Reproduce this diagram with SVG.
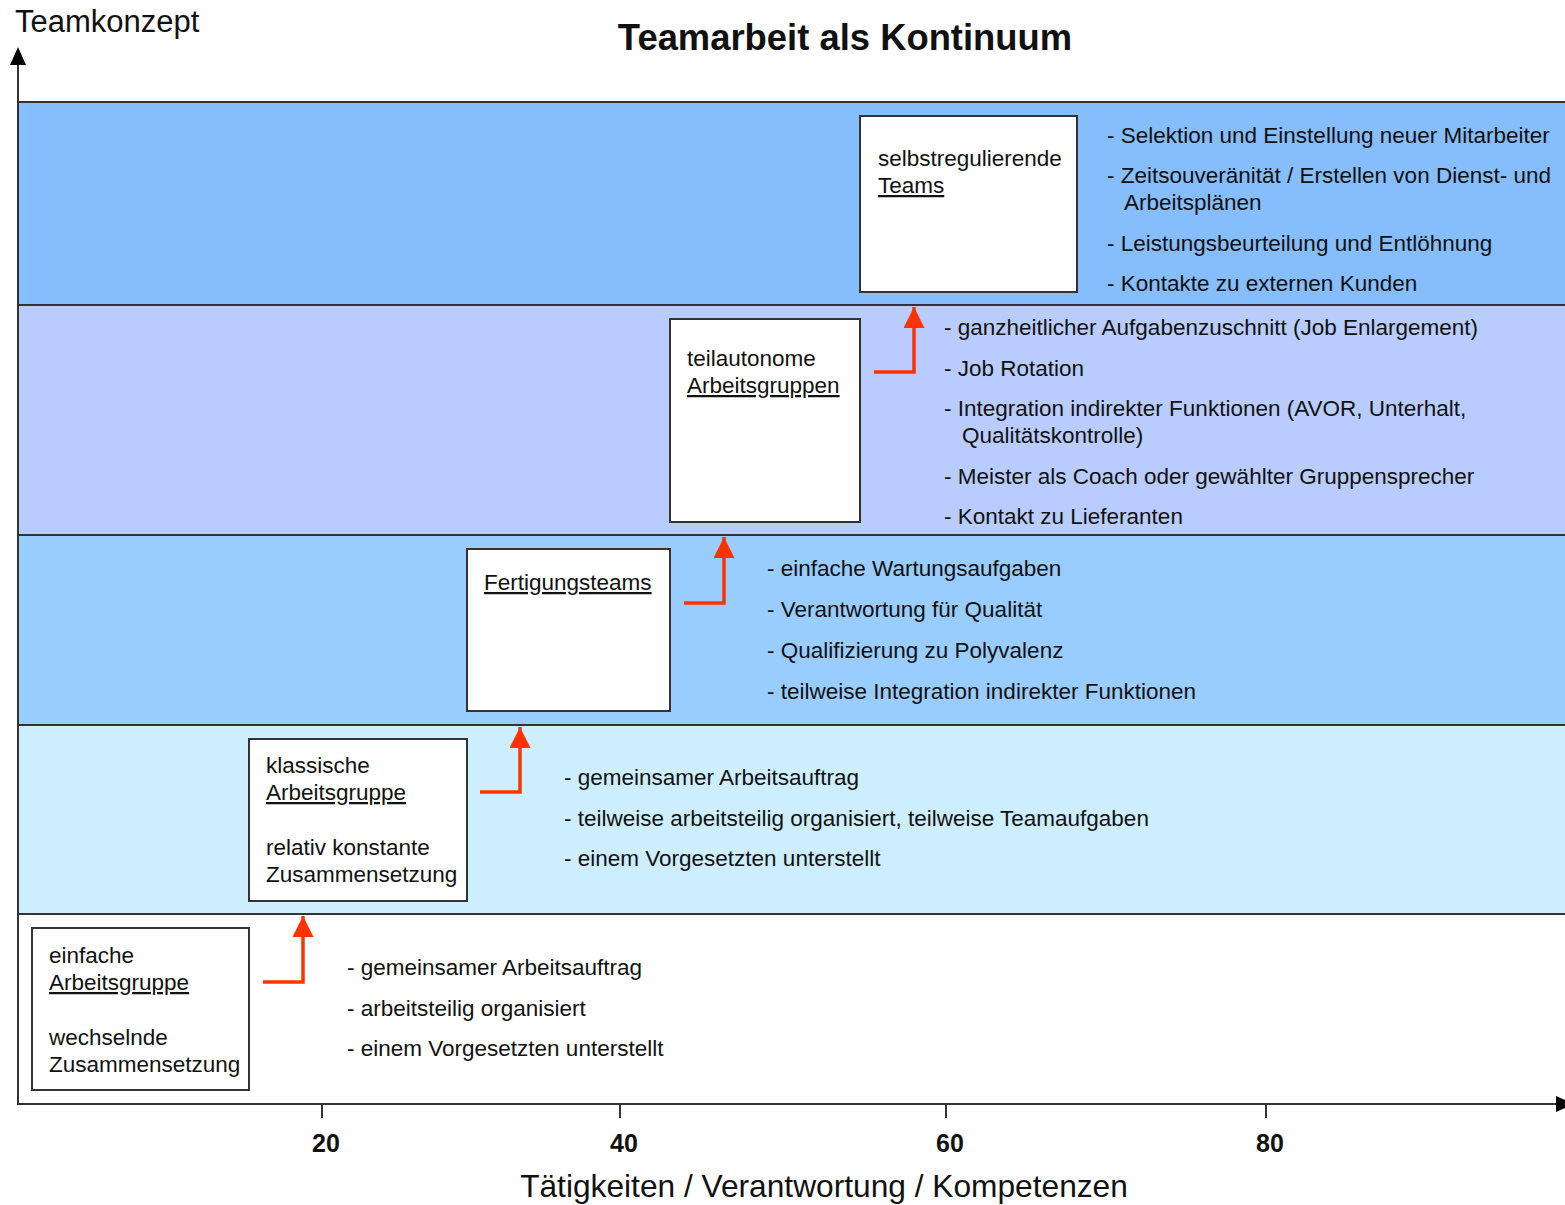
<svg xmlns="http://www.w3.org/2000/svg" width="1565" height="1205" viewBox="0 0 1565 1205">
<style>
text{font-family:"Liberation Sans",Arial,sans-serif;fill:#111}
.t{font-size:22.5px}
.u{text-decoration:underline}
.box{fill:#fff;stroke:#333;stroke-width:2}
.band{stroke:#333;stroke-width:2}
.ax{stroke:#333;stroke-width:2;fill:none}
.arr{stroke:#ff3300;stroke-width:3.5;fill:none}
.tick{font-size:25px;font-weight:bold;text-anchor:middle}
</style>
<defs>
<marker id="ah" viewBox="0 0 10 10" refX="10" refY="5" markerWidth="6" markerHeight="6" markerUnits="strokeWidth" orient="auto"><path d="M0,0 L10,5 L0,10 z" fill="#ff3300"/></marker>
</defs>
<rect width="1565" height="1205" fill="#fff"/>
<g id="bands">
<rect class="band" x="18" y="102" width="1560" height="203" fill="#85bdfd"/>
<rect class="band" x="18" y="305" width="1560" height="230" fill="#b9ccff"/>
<rect class="band" x="18" y="535" width="1560" height="190" fill="#99ccff"/>
<rect class="band" x="18" y="725" width="1560" height="189" fill="#cceeff"/>
<rect class="band" x="18" y="914" width="1560" height="190" fill="#ffffff"/>
</g>
<g id="axes">
<line class="ax" x1="18" y1="1104" x2="18" y2="62"/>
<polygon points="10,65 18,47 26,65" fill="#000"/>
<line class="ax" x1="18" y1="1104" x2="1558" y2="1104"/>
<polygon points="1556,1096 1574,1104 1556,1112" fill="#000"/>
<line class="ax" x1="322" y1="1104" x2="322" y2="1118"/>
<line class="ax" x1="620" y1="1104" x2="620" y2="1118"/>
<line class="ax" x1="946" y1="1104" x2="946" y2="1118"/>
<line class="ax" x1="1266" y1="1104" x2="1266" y2="1118"/>
<text class="tick" x="326" y="1152">20</text>
<text class="tick" x="624" y="1152">40</text>
<text class="tick" x="950" y="1152">60</text>
<text class="tick" x="1270" y="1152">80</text>
<text x="824" y="1197" font-size="31.7" text-anchor="middle">Tätigkeiten / Verantwortung / Kompetenzen</text>
<text x="15" y="32" font-size="31">Teamkonzept</text>
</g>
<text x="845" y="50" font-size="36.4" font-weight="bold" text-anchor="middle">Teamarbeit als Kontinuum</text>
<g id="node-selbst">
<rect class="box" x="860" y="116" width="217" height="176"/>
<text class="t" x="878" y="166">selbstregulierende</text>
<text class="t u" x="878" y="193">Teams</text>
</g>
<g id="node-teilautonom">
<rect class="box" x="670" y="319" width="190" height="203"/>
<text class="t" x="687" y="366">teilautonome</text>
<text class="t u" x="687" y="393">Arbeitsgruppen</text>
</g>
<g id="node-fertigung">
<rect class="box" x="467" y="549" width="203" height="162"/>
<text class="t u" x="484" y="590">Fertigungsteams</text>
</g>
<g id="node-klassisch">
<rect class="box" x="249" y="739" width="218" height="162"/>
<text class="t" x="266" y="773">klassische</text>
<text class="t u" x="266" y="800">Arbeitsgruppe</text>
<text class="t" x="266" y="855">relativ konstante</text>
<text class="t" x="266" y="882">Zusammensetzung</text>
</g>
<g id="node-einfach">
<rect class="box" x="32" y="928" width="217" height="162"/>
<text class="t" x="49" y="963">einfache</text>
<text class="t u" x="49" y="990">Arbeitsgruppe</text>
<text class="t" x="49" y="1045">wechselnde</text>
<text class="t" x="49" y="1072">Zusammensetzung</text>
</g>
<g id="connectors">
<path class="arr" d="M263,982 H303 V916" marker-end="url(#ah)"/>
<path class="arr" d="M480,792 H520 V727" marker-end="url(#ah)"/>
<path class="arr" d="M684,603 H724 V537" marker-end="url(#ah)"/>
<path class="arr" d="M874,372 H914 V307" marker-end="url(#ah)"/>
</g>
<g id="lists">
<text class="t" x="1107" y="143">- Selektion und Einstellung neuer Mitarbeiter</text>
<text class="t" x="1107" y="183">- Zeitsouveränität / Erstellen von Dienst- und</text>
<text class="t" x="1124" y="210">Arbeitsplänen</text>
<text class="t" x="1107" y="251">- Leistungsbeurteilung und Entlöhnung</text>
<text class="t" x="1107" y="291">- Kontakte zu externen Kunden</text>
<text class="t" x="944" y="335">- ganzheitlicher Aufgabenzuschnitt (Job Enlargement)</text>
<text class="t" x="944" y="376">- Job Rotation</text>
<text class="t" x="944" y="416">- Integration indirekter Funktionen (AVOR, Unterhalt,</text>
<text class="t" x="962" y="443">Qualitätskontrolle)</text>
<text class="t" x="944" y="484">- Meister als Coach oder gewählter Gruppensprecher</text>
<text class="t" x="944" y="524">- Kontakt zu Lieferanten</text>
<text class="t" x="767" y="576">- einfache Wartungsaufgaben</text>
<text class="t" x="767" y="617">- Verantwortung für Qualität</text>
<text class="t" x="767" y="658">- Qualifizierung zu Polyvalenz</text>
<text class="t" x="767" y="699">- teilweise Integration indirekter Funktionen</text>
<text class="t" x="564" y="785">- gemeinsamer Arbeitsauftrag</text>
<text class="t" x="564" y="826">- teilweise arbeitsteilig organisiert, teilweise Teamaufgaben</text>
<text class="t" x="564" y="866">- einem Vorgesetzten unterstellt</text>
<text class="t" x="347" y="975">- gemeinsamer Arbeitsauftrag</text>
<text class="t" x="347" y="1016">- arbeitsteilig organisiert</text>
<text class="t" x="347" y="1056">- einem Vorgesetzten unterstellt</text>
</g>
</svg>
